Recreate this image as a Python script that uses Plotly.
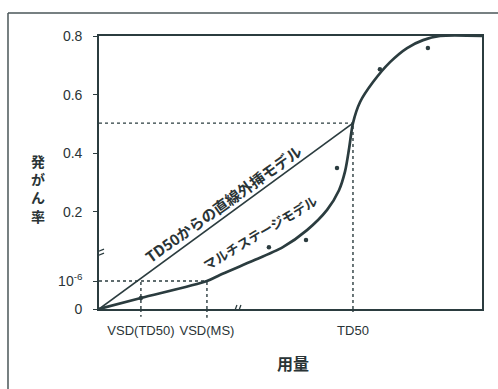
import plotly.graph_objects as go

# ---- schematic axis units (dose: TD50 = 1; response: display units with axis break) ----
x_tick_vals = [0.165, 0.425, 1.0]
x_tick_text = ["VSD(TD50)", "VSD(MS)", "TD50"]
y_tick_vals = [0.0, 0.0955, 0.331, 0.531, 0.731, 0.931]
y_tick_text = ["0", "10<sup>-6</sup>", "0.2", "0.4", "0.6", "0.8"]

# multistage model curve
ms_x = [0.0, 0.165, 0.425, 0.476, 0.594, 0.724, 0.819, 0.898, 0.945, 0.969, 0.985,
        1.0, 1.028, 1.079, 1.146, 1.213, 1.276, 1.343, 1.508]
ms_y = [0.0, 0.0375, 0.0955, 0.116, 0.160, 0.211, 0.269, 0.338, 0.405, 0.470, 0.549,
        0.634, 0.706, 0.774, 0.842, 0.890, 0.917, 0.931, 0.931]

# linear extrapolation from TD50
lin_x = [0.0, 1.0]
lin_y = [0.0, 0.634]

# observed data points
obs_x = [0.165, 0.669, 0.815, 0.937, 1.106, 1.295]
obs_y = [0.0375, 0.211, 0.235, 0.481, 0.818, 0.890]

# reference levels
td50_x, td50_y = 1.0, 0.634
vsd_level = 0.0955
vsd_td50_x, vsd_ms_x = 0.165, 0.425
break_y = 0.194
break_x = 0.547

ink = "#2b3c3f"
txt = "#2a3436"
font_family = "Liberation Sans, Arial, Noto Sans CJK JP, sans-serif"
jp_family = "Noto Sans CJK JP, Liberation Sans, sans-serif"

fig = go.Figure()
fig.add_trace(go.Scatter(x=lin_x, y=lin_y, mode="lines",
                         line=dict(color=ink, width=1.7), hoverinfo="skip"))
fig.add_trace(go.Scatter(x=ms_x, y=ms_y, mode="lines",
                         line=dict(color=ink, width=2.7, shape="spline", smoothing=0.8),
                         hoverinfo="skip"))
fig.add_trace(go.Scatter(x=obs_x, y=obs_y, mode="markers",
                         marker=dict(color=ink, size=4.5), cliponaxis=False,
                         hoverinfo="skip"))

dot = dict(color=ink, width=1.4, dash="dot")
shapes = [
    # horizontal dotted at TD50 response
    dict(type="line", xref="x", yref="y", x0=0, x1=td50_x, y0=td50_y, y1=td50_y, line=dot),
    dict(type="line", xref="x", yref="y", x0=td50_x, x1=td50_x, y0=0, y1=td50_y, line=dot),
    dict(type="line", xref="x", yref="paper", x0=td50_x, x1=td50_x, y0=0, y1=-0.018, line=dot),
    # 10^-6 level
    dict(type="line", xref="x", yref="y", x0=0, x1=vsd_ms_x, y0=vsd_level, y1=vsd_level, line=dot),
    dict(type="line", xref="x", yref="y", x0=vsd_td50_x, x1=vsd_td50_x, y0=0, y1=vsd_level, line=dot),
    dict(type="line", xref="x", yref="paper", x0=vsd_td50_x, x1=vsd_td50_x, y0=0, y1=-0.028, line=dot),
    dict(type="line", xref="x", yref="y", x0=vsd_ms_x, x1=vsd_ms_x, y0=0, y1=vsd_level, line=dot),
    dict(type="line", xref="x", yref="paper", x0=vsd_ms_x, x1=vsd_ms_x, y0=0, y1=-0.032, line=dot),
    # axis breaks
    dict(type="line", xref="x", yref="y", xsizemode="pixel", ysizemode="pixel",
         xanchor=0, yanchor=break_y, x0=-5, x1=5, y0=-1, y1=3, line=dict(color=ink, width=1.3)),
    dict(type="line", xref="x", yref="y", xsizemode="pixel", ysizemode="pixel",
         xanchor=0, yanchor=break_y, x0=-5, x1=5, y0=-5, y1=-1, line=dict(color=ink, width=1.3)),
    dict(type="line", xref="x", yref="y", xsizemode="pixel", ysizemode="pixel",
         xanchor=break_x, yanchor=0, x0=-4, x1=-1, y0=-4, y1=4, line=dict(color=ink, width=1.3)),
    dict(type="line", xref="x", yref="y", xsizemode="pixel", ysizemode="pixel",
         xanchor=break_x, yanchor=0, x0=0, x1=3, y0=-4, y1=4, line=dict(color=ink, width=1.3)),
    # outer frame (scan border)
    dict(type="line", xref="paper", yref="paper", x0=-0.2376, x1=-0.2376, y0=1.084, y1=-0.35,
         line=dict(color="#4a5658", width=1.5)),
    dict(type="line", xref="paper", yref="paper", x0=-0.2376, x1=1.1, y0=1.084, y1=1.084,
         line=dict(color="#4a5658", width=1.5)),
]

annotations = [
    dict(text="TD50からの直線外挿モデル", x=0.488, y=0.361, xref="x", yref="y",
         showarrow=False, textangle=-35.7,
         font=dict(family=jp_family, size=15, color=txt, weight="bold")),
    dict(text="マルチステージモデル", x=0.634, y=0.262, xref="x", yref="y",
         showarrow=False, textangle=-31,
         font=dict(family=jp_family, size=13, color=txt, weight="bold")),
    dict(text="発<br>が<br>ん<br>率", x=-0.159, y=0.443, xref="paper", yref="paper",
         xanchor="center", yanchor="middle",
         showarrow=False, align="center",
         font=dict(family=jp_family, size=14, color=txt, weight="bold")),
    dict(text="用量", x=0.507, y=-0.198, xref="paper", yref="paper",
         xanchor="center", yanchor="middle",
         showarrow=False,
         font=dict(family=jp_family, size=16, color=txt, weight="bold")),
]

fig.update_layout(
    width=498, height=389,
    margin=dict(l=99, r=16, t=36, b=80),
    paper_bgcolor="white", plot_bgcolor="white",
    showlegend=False,
    shapes=shapes, annotations=annotations,
    font=dict(family=font_family, size=14, color=txt),
    xaxis=dict(range=[0, 1.508], tickvals=x_tick_vals, ticktext=x_tick_text,
               ticks="", showgrid=False, zeroline=False, tickangle=0,
               showline=True, linecolor=ink, linewidth=1.6, mirror=True,
               ticklabelstandoff=9, tickfont=dict(size=13, color=txt)),
    yaxis=dict(range=[0, 0.931], tickvals=y_tick_vals, ticktext=y_tick_text,
               ticks="outside", ticklen=4, tickcolor=ink, tickwidth=1.3,
               showgrid=False, zeroline=False,
               showline=True, linecolor=ink, linewidth=1.6, mirror=True,
               ticklabelstandoff=8, tickfont=dict(size=14, color=txt)),
)

fig.write_html("out.html", config={"displayModeBar": False},
               post_script="document.body.style.margin='0';document.body.style.overflow='hidden';")
